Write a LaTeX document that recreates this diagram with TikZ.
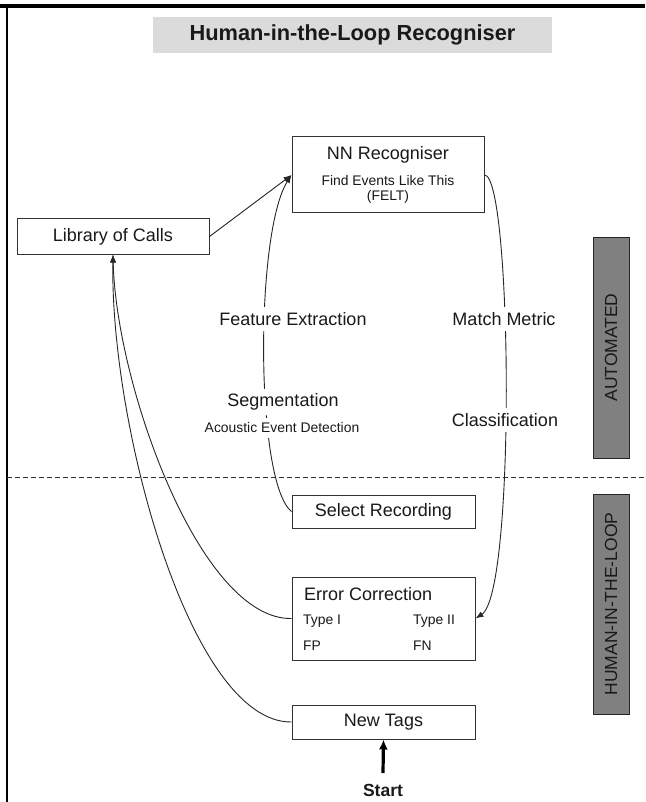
\documentclass[tikz,border=0pt]{standalone}
\usepackage{fontspec}
\setmainfont{Liberation Sans}
\usetikzlibrary{arrows.meta}
\begin{document}
\begin{tikzpicture}[x=1pt,y=-1pt,
  box/.style={draw=black!80, line width=1pt, fill=white, inner sep=0pt},
  big/.style={font=\fontsize{18}{20}\selectfont, text=black!90},
  small/.style={font=\fontsize{13.9}{16}\selectfont, text=black!90},
  lbl/.style={fill=white, inner sep=5pt},
  conn/.style={draw=black!85, line width=0.9pt, -{Latex[length=8pt,width=6pt]}},
  bar/.style={draw=black!85, line width=1pt, fill=black!50, inner sep=0pt, rotate=90,
    font=\fontsize{17.5}{20}\selectfont, text=black!90},
]
\useasboundingbox (0,0) rectangle (645,802);

% frame
\coordinate (tl) at (0,6);
\coordinate (tr) at (645,6);
\coordinate (lt) at (7,4);
\coordinate (lb) at (7,802);
\draw[line width=4pt] (tl) -- (tr);
\draw[line width=1.3pt] (lt) -- (lb);

% title
\node[fill=black!14, minimum width=399pt, minimum height=36pt, inner sep=0pt,
  font=\fontsize{21.8}{24}\selectfont\bfseries, text=black!90] (title) at (352.5,35) {Human-in-the-Loop Recogniser};

% dashed separator
\coordinate (dl) at (7,477);
\coordinate (dr) at (645,477);
\draw[black!80, line width=1pt, dash pattern=on 5pt off 3pt] (dl) -- (dr);

% side bars
\node[bar, minimum width=221pt, minimum height=36pt] (auto) at (611,347.5) {AUTOMATED};
\node[bar, minimum width=220pt, minimum height=36pt] (hitl) at (611,604) {HUMAN-IN-THE-LOOP};

% boxes
\node[box, minimum width=192pt, minimum height=76pt] (nn) at (388,175) {};
\node[big] (nnt) at (388,155) {NN Recogniser};
\node[small] (nnf) at (388,181) {Find Events Like This};
\node[small] (nnfelt) at (388,197) {(FELT)};

\node[box, big, minimum width=192pt, minimum height=35pt] (lib) at (113,236.5) {Library of Calls};
\node[box, big, minimum width=183pt, minimum height=33pt] (sel) at (383.5,511.5) {Select Recording};

\node[box, minimum width=183pt, minimum height=83pt] (ec) at (383.5,618.5) {};
\node[big, anchor=west, inner sep=0pt] (ect) at (304,594) {Error Correction};
\node[small, anchor=west, inner sep=0pt] (t1) at (303,621) {Type I};
\node[small, anchor=west, inner sep=0pt] (t2) at (413,621) {Type II};
\node[small, anchor=west, inner sep=0pt] (fp) at (303,646) {FP};
\node[small, anchor=west, inner sep=0pt] (fn) at (413,646) {FN};

\node[box, big, minimum width=183pt, minimum height=34pt] (nt) at (383.5,722) {New Tags};

% connectors
\draw[conn] (lib.east) -- (nn.west);
\draw[conn] (sel.west) .. controls (255,482) and (255,232) .. (nn.west);
\draw[conn] (nn.east) .. controls (512,175) and (516,592) .. (ec.east);
\draw[conn] (ec.west) .. controls (200,620) and (116,385) .. (lib.south);
\draw[conn] (nt.west) .. controls (190,723) and (110,425) .. (lib.south);

% start
\node[font=\fontsize{17.5}{20}\selectfont\bfseries, text=black!90, inner sep=1pt] (start) at (383,790) {Start};
\coordinate (s0) at (383,773);
\draw[line width=3.2pt, -{Latex[length=10pt,width=9pt]}] (s0) -- (nt.south);

% labels on curves
\node[big, lbl] (fe) at (293,319) {Feature Extraction};
\node[big, lbl] (mm) at (504,319) {Match Metric};
\node[big, lbl] (seg) at (283,402) {Segmentation};
\node[small, lbl] (aed) at (282,428) {Acoustic Event Detection};
\node[big, lbl] (cls) at (505,420) {Classification};
\end{tikzpicture}
\end{document}
